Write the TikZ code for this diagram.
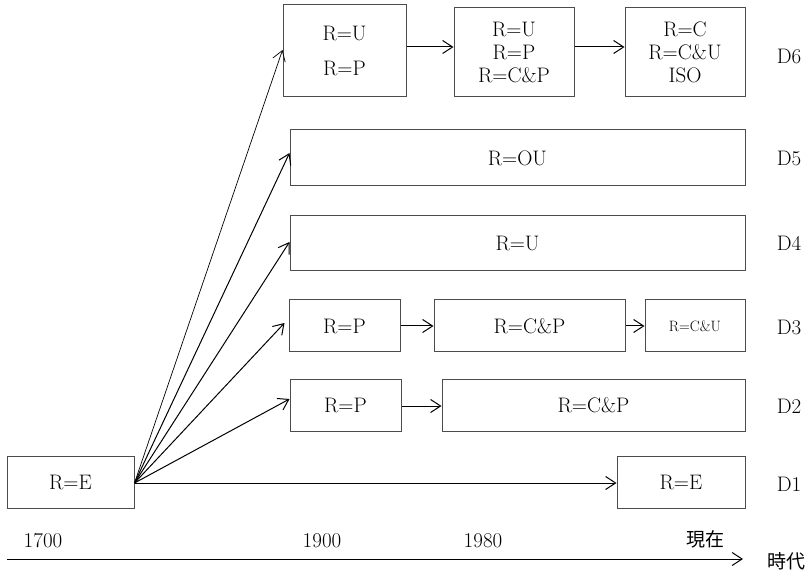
\documentclass[tikz,border=0pt]{standalone}
\usepackage{fontspec}
\newfontfamily\jpfont{Noto Sans CJK JP}
\usetikzlibrary{calc,arrows.meta}

\begin{document}
\begin{tikzpicture}[x=1pt, y=-1pt, line width=1pt,
  >={Straight Barb[length=10pt,width=13pt]},
  rbox/.style={draw=black!70, inner sep=0pt, align=center,
    font=\fontsize{21}{23}\selectfont},
  lbl/.style={font=\fontsize{21}{23}\selectfont}]
  \useasboundingbox (0,0) rectangle (812,572);
  % D6
  \node[rbox, minimum width=123pt, minimum height=92pt] (d6a) at (344.5,51)
    {R=U\\[12pt]R=P};
  \node[rbox, minimum width=120pt, minimum height=89pt] (d6b) at (514,52.5)
    {R=U\\R=P\\R=C\&P};
  \node[rbox, minimum width=120pt, minimum height=89pt] (d6c) at (685,52.5)
    {R=C\\R=C\&U\\ISO};
  % D5, D4
  \node[rbox, minimum width=455pt, minimum height=56pt] (d5) at (517.5,158) {R=OU};
  \node[rbox, minimum width=455pt, minimum height=55pt] (d4) at (517.5,243.5) {R=U};
  % D3
  \node[rbox, minimum width=111pt, minimum height=52pt] (d3a) at (344.5,326) {R=P};
  \node[rbox, minimum width=191pt, minimum height=52pt] (d3b) at (529.5,326) {R=C\&P};
  \node[rbox, minimum width=100pt, minimum height=52pt, font=\fontsize{15}{17}\selectfont]
    (d3c) at (695,326) {R=C\&U};
  % D2
  \node[rbox, minimum width=111pt, minimum height=52pt] (d2a) at (345.5,405) {R=P};
  \node[rbox, minimum width=303pt, minimum height=52pt] (d2b) at (593.5,405) {R=C\&P};
  % D1
  \node[rbox, minimum width=127pt, minimum height=52pt] (e0) at (70.5,482) {R=E};
  \node[rbox, minimum width=128pt, minimum height=52pt] (d1) at (681,482) {R=E};

  % row labels
  \node[lbl] (l6) at (789,56) {D6};
  \node[lbl] (l5) at (789,158) {D5};
  \node[lbl] (l4) at (789,243) {D4};
  \node[lbl] (l3) at (789,327) {D3};
  \node[lbl] (l2) at (789,406) {D2};
  \node[lbl] (l1) at (789,484) {D1};

  % fan out from R=E
  \coordinate (o) at ($(e0.east)+(0,1)$);
  \draw[->, line width=0.7pt] (o) -- ($(d6a.west)+(0,-1)$);
  \draw[->] (o) -- ($(d5.west)+(0,-5)$);
  \draw[->] (o) -- ($(d4.west)+(0,-1.5)$);
  \draw[->] (o) -- ($(d3a.west)+(-4,-3)$);
  \draw[->] (o) -- ($(d2a.west)+(0,-6)$);
  \draw[->] (o) -- (d1.west |- o);

  % arrows in the rows
  \draw[->] ($(d6a.east)+(0,-4)$) -- ($(d6b.west)+(0,-5.5)$);
  \draw[->] ($(d6b.east)+(0,-5.5)$) -- ($(d6c.west)+(0,-5.5)$);
  \draw[->] (d3a.east) -- (d3b.west);
  \draw[->] (d3b.east) -- (d3c.west);
  \draw[->] ($(d2a.east)+(0,1)$) -- ($(d2b.west)+(0,1)$);

  % time axis
  \node[lbl] (y1) at (43,541) {1700};
  \node[lbl] (y2) at (322,541) {1900};
  \node[lbl] (y3) at (483,541) {1980};
  \node[lbl, font=\jpfont\fontsize{19}{21}\selectfont] (y4) at (705,539) {現在};
  \node[lbl, font=\jpfont\fontsize{19}{21}\selectfont, anchor=west] (era) at (764,561) {時代};
  \coordinate (t0) at (7,559);
  \draw[->] (t0) -- (743,559);
\end{tikzpicture}
\end{document}
